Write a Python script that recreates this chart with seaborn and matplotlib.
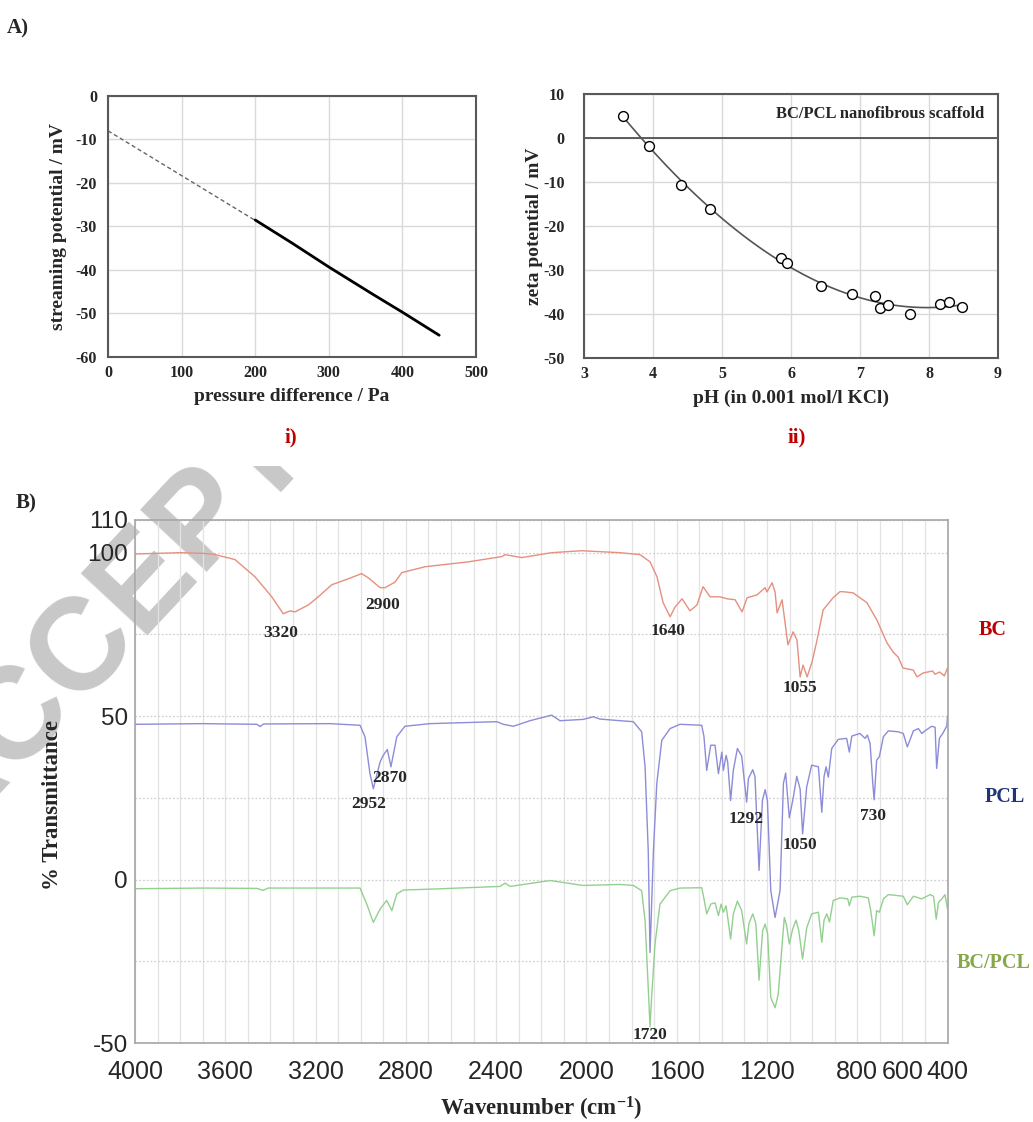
import numpy as np
import pandas as pd
import matplotlib
matplotlib.use("Agg")
import matplotlib.pyplot as plt
from matplotlib.ticker import FixedLocator, MultipleLocator
from matplotlib.transforms import Bbox, TransformedBbox
import seaborn as sns

# ---------------- data ----------------
# Panel A i) streaming potential vs pressure difference
fit_pressure = [0, 200]
fit_potential = [-8.0, -28.6]
meas_pressure = [200, 250, 300, 360, 400, 450]
meas_potential = [-28.5, -33.8, -39.3, -45.6, -49.7, -55.0]

# Panel A ii) zeta potential vs pH
ph = [3.57, 3.94, 4.41, 4.83, 5.85, 5.94, 6.43, 6.89, 7.22, 7.29, 7.40, 7.73, 8.16, 8.29, 8.48]
zeta = [5.1, -1.9, -10.6, -16.1, -27.3, -28.3, -33.6, -35.4, -35.8, -38.6, -38.0, -40.0, -37.7, -37.3, -38.5]

# Panel B) FTIR spectra
bc_wn = [4000, 3900, 3800, 3700, 3650, 3557, 3468, 3394, 3343, 3313, 3291, 3232, 3188, 3128,
         3055, 2996, 2966, 2914, 2892, 2848, 2818, 2715, 2523, 2375, 2360, 2287, 2154, 2021,
         1851, 1762, 1718, 1687, 1660, 1629, 1607, 1576, 1541, 1510, 1483, 1452, 1408, 1377,
         1341, 1328, 1310, 1288, 1244, 1208, 1200, 1177, 1164, 1155, 1133, 1107, 1084, 1067,
         1053, 1040, 1022, 1000, 978, 951, 907, 876, 854, 818, 757, 713, 668, 641, 619, 597,
         552, 535, 508, 466, 455, 435, 414, 400]
bc_t = [99.6, 99.8, 100.0, 99.8, 99.5, 97.9, 92.6, 86.5, 81.3, 82.2, 81.9, 84.0, 86.5, 90.2,
        92.0, 93.6, 92.3, 89.3, 89.3, 91.0, 93.9, 95.7, 97.2, 98.8, 99.4, 98.5, 100.0, 100.6,
        100.0, 99.4, 97.2, 92.6, 84.7, 80.4, 83.4, 85.9, 82.2, 84.0, 89.6, 86.5, 86.5, 85.9,
        85.6, 84.0, 81.9, 86.2, 87.1, 89.3, 88.0, 90.8, 88.0, 81.6, 85.6, 71.8, 75.8, 73.3,
        62.0, 65.6, 62.0, 66.6, 73.3, 82.5, 86.2, 88.1, 88.0, 87.7, 84.7, 79.4, 72.4, 69.6,
        68.1, 64.7, 64.1, 62.0, 63.2, 63.8, 62.8, 63.5, 62.3, 64.7]

pcl_wn = [4000, 3700, 3460, 3446, 3430, 3136, 3003, 2981, 2959, 2944, 2914, 2900, 2882, 2866,
          2840, 2804, 2693, 2397, 2368, 2324, 2250, 2154, 2117, 2014, 1969, 1940, 1851, 1792,
          1755, 1740, 1726, 1718, 1703, 1688, 1666, 1629, 1585, 1489, 1479, 1467, 1449, 1430,
          1415, 1400, 1393, 1381, 1374, 1361, 1349, 1331, 1312, 1290, 1282, 1263, 1253, 1235,
          1220, 1208, 1198, 1183, 1164, 1142, 1127, 1117, 1101, 1083, 1068, 1053, 1042, 1024,
          1002, 972, 957, 947, 938, 928, 913, 884, 847, 835, 824, 788, 765, 755, 743, 731, 725,
          714, 702, 684, 662, 618, 596, 578, 551, 529, 514, 500, 470, 455, 448, 436, 421, 403, 400]
pcl_t = [47.5, 47.7, 47.5, 46.8, 47.6, 47.7, 47.2, 43.7, 32.4, 27.8, 36.0, 38.0, 39.8, 34.5,
         43.7, 46.9, 47.7, 48.3, 47.5, 46.9, 48.6, 50.3, 48.6, 49.0, 49.8, 49.1, 48.6, 48.3,
         45.2, 34.5, 8.9, -22.3, 8.9, 29.4, 42.6, 46.2, 47.5, 47.2, 43.7, 33.4, 41.1, 41.1,
         32.4, 39.0, 33.4, 38.0, 36.0, 24.2, 33.4, 40.1, 37.8, 23.7, 30.9, 33.6, 31.5, 2.8,
         24.2, 27.5, 24.2, -3.4, -11.6, -3.4, 29.4, 32.6, 18.9, 25.2, 31.6, 27.7, 14.0, 28.3,
         35.0, 34.5, 20.6, 31.5, 34.5, 31.3, 40.1, 42.9, 43.2, 39.0, 43.9, 44.7, 43.2, 44.2,
         41.6, 29.4, 24.4, 36.5, 37.6, 43.7, 45.5, 45.2, 44.7, 40.6, 45.5, 46.2, 44.7, 45.5,
         46.9, 46.6, 34.0, 43.2, 44.7, 47.0, 50.0]

blend_wn = [4000, 3700, 3460, 3433, 3410, 3003, 2973, 2944, 2914, 2885, 2862, 2840, 2811, 2678,
            2383, 2360, 2338, 2161, 2015, 1851, 1792, 1755, 1740, 1726, 1718, 1711, 1696, 1674,
            1629, 1585, 1489, 1479, 1467, 1449, 1430, 1415, 1403, 1393, 1381, 1361, 1349, 1331,
            1312, 1290, 1280, 1263, 1249, 1235, 1219, 1208, 1197, 1183, 1164, 1150, 1135, 1123,
            1113, 1101, 1086, 1071, 1059, 1042, 1024, 1002, 972, 957, 947, 935, 923, 906, 876,
            842, 835, 824, 788, 751, 740, 725, 714, 702, 684, 662, 596, 578, 551, 514, 477, 462,
            450, 440, 425, 411, 400]
blend_t = [-2.8, -2.6, -2.7, -3.3, -2.6, -2.6, -7.5, -13.1, -9.0, -6.4, -9.5, -4.4, -3.2, -2.9,
           -2.1, -1.1, -2.1, -0.3, -1.8, -1.5, -1.8, -3.4, -12.6, -33.0, -45.0, -36.1, -19.7, -7.5,
           -3.4, -2.6, -2.5, -5.9, -10.5, -7.5, -7.1, -11.0, -7.5, -10.0, -8.0, -18.2, -10.5, -6.6,
           -9.5, -19.7, -13.5, -10.5, -13.5, -30.8, -15.6, -13.6, -16.6, -36.1, -39.2, -35.1, -21.8, -11.6,
           -14.0, -19.7, -15.1, -12.4, -15.6, -24.3, -14.8, -10.5, -10.0, -19.2, -12.4, -10.5, -13.0, -6.4, -5.6,
           -5.9, -8.0, -5.4, -5.1, -5.6, -9.5, -17.2, -9.5, -10.0, -5.9, -4.6, -5.1, -7.7, -5.1, -5.9, -4.6, -5.1,
           -12.1, -7.0, -5.9, -4.6, -9.0]

peak_labels = ["3320", "2900", "1640", "1055", "2952", "2870", "1292", "1050", "730", "1720"]
peak_x = [3355, 2905, 1640, 1055, 2965, 2870, 1292, 1055, 730, 1720]
peak_y = [75.5, 84.0, 76.0, 58.5, 23.0, 31.0, 18.5, 10.5, 19.5, -47.5]

series_names = ["BC", "PCL", "BC/PCL"]
wn_ticks = [4000, 3600, 3200, 2800, 2400, 2000, 1600, 1200, 800, 600, 400]

# ---------------- style ----------------
sns.set_style("white")
SERIF = ["Liberation Serif", "DejaVu Serif"]
SANS = ["Liberation Sans", "DejaVu Sans"]
plt.rcParams["font.family"] = SERIF
plt.rcParams["axes.unicode_minus"] = False
plt.rcParams["mathtext.fontset"] = "custom"
plt.rcParams["mathtext.rm"] = "Liberation Serif:bold"
plt.rcParams["mathtext.bf"] = "Liberation Serif:bold"
plt.rcParams["mathtext.it"] = "Liberation Serif:bold"
plt.rcParams["mathtext.default"] = "bf"

fig = plt.figure(figsize=(10.33, 11.22), dpi=100)
fig.patch.set_facecolor("white")

W, H = 1033.0, 1122.0
def rect(x0, y0, x1, y1):
    return [x0 / W, 1 - y1 / H, (x1 - x0) / W, (y1 - y0) / H]

RED = "#c00000"
FRAME = "#595959"
GRID = "#d9d9d9"

# ---------------- panel A i ----------------
ax1 = fig.add_axes(rect(108, 96, 476, 357))
sns.lineplot(x=fit_pressure, y=fit_potential, ax=ax1, color="#666666", lw=1.0,
             linestyle=(0, (3, 2)), estimator=None, sort=False)
sns.lineplot(x=meas_pressure, y=meas_potential, ax=ax1, color="black", lw=2.0,
             estimator=None, sort=False)
ax1.set_xlim(0, 500)
ax1.set_ylim(-60, 0)
ax1.xaxis.set_major_locator(MultipleLocator(100))
ax1.yaxis.set_major_locator(MultipleLocator(10))
ax1.grid(True, color=GRID, lw=1.0)
ax1.set_axisbelow(True)
for s in ax1.spines.values():
    s.set_color(FRAME); s.set_linewidth(1.5)
ax1.tick_params(length=0, labelsize=11.5, pad=6)
ax1.tick_params(axis="y", pad=8)
for lab in ax1.get_xticklabels() + ax1.get_yticklabels():
    lab.set_fontweight("bold")
ax1.set_xlabel("pressure difference / Pa", fontsize=14, fontweight="bold", labelpad=5)
ax1.set_ylabel("streaming potential / mV", fontsize=14, fontweight="bold", labelpad=6)

# ---------------- panel A ii ----------------
ax2 = fig.add_axes(rect(584, 94, 998, 358))
ax2.axhline(0, color="#505050", lw=1.3, zorder=1)
sns.regplot(x=ph, y=zeta, order=3, ci=None, scatter=False, truncate=True, ax=ax2,
            line_kws=dict(color="#555555", lw=1.2))
sns.scatterplot(x=ph, y=zeta, ax=ax2, s=50, color="white", edgecolor="black",
                linewidth=1.0, zorder=4)
ax2.set_xlim(3, 9)
ax2.set_ylim(-50, 10)
ax2.xaxis.set_major_locator(MultipleLocator(1))
ax2.yaxis.set_major_locator(MultipleLocator(10))
ax2.grid(True, color=GRID, lw=1.0)
ax2.set_axisbelow(True)
for s in ax2.spines.values():
    s.set_color(FRAME); s.set_linewidth(1.5)
ax2.tick_params(length=0, labelsize=11.5, pad=6)
ax2.tick_params(axis="y", pad=14)
for lab in ax2.get_xticklabels() + ax2.get_yticklabels():
    lab.set_fontweight("bold")
ax2.set_xlabel("pH (in 0.001 mol/l KCl)", fontsize=14, fontweight="bold", labelpad=5)
ax2.set_ylabel("zeta potential / mV", fontsize=14, fontweight="bold", labelpad=0)
ax2.text(0.966, 0.925, "BC/PCL nanofibrous scaffold", transform=ax2.transAxes,
         ha="right", va="center", fontsize=12, fontweight="bold")

# ---------------- panel B ----------------
ax3 = fig.add_axes(rect(135, 520, 947.5, 1043))
ax3.set_facecolor("none")
colors = ["#e5907f", "#8c8cd8", "#93d08f"]
for wn, t, c in zip([bc_wn, pcl_wn, blend_wn], [bc_t, pcl_t, blend_t], colors):
    sns.lineplot(x=wn, y=t, ax=ax3, color=c, lw=1.0, estimator=None, sort=False)
ax3.set_xlim(4000, 400)
ax3.set_ylim(-50, 110)
ax3.xaxis.set_major_locator(FixedLocator(wn_ticks))
ax3.xaxis.set_minor_locator(MultipleLocator(100))
ax3.yaxis.set_major_locator(FixedLocator([-50, 0, 50, 100, 110]))
ax3.yaxis.set_minor_locator(FixedLocator([-25, 25, 75]))
ax3.grid(True, which="both", axis="x", color="#e3e3e3", lw=0.9)
ax3.grid(True, which="both", axis="y", color="#d0d0d0", lw=0.9, linestyle=(0, (1.5, 1.5)))
ax3.set_axisbelow(True)
for s in ax3.spines.values():
    s.set_color("#a6a6a6"); s.set_linewidth(1.2)
ax3.tick_params(axis="x", which="both", direction="in", length=10, color="#a6a6a6",
                labelsize=18, pad=12)
ax3.tick_params(axis="y", which="major", direction="in", length=14, color="#a6a6a6",
                labelsize=17.5, pad=5)
ax3.tick_params(axis="y", which="minor", direction="in", length=7, color="#a6a6a6")
ax3.set_xticklabels([str(v) for v in wn_ticks], fontfamily=SANS)
ax3.set_yticklabels(["-50", "0", "50", "100", "110"], fontfamily=SANS)
ax3.set_xlabel(r"Wavenumber (cm$^{-1}$)", fontsize=16.5, fontweight="bold", labelpad=8)
ax3.set_ylabel("% Transmittance", fontsize=16.5, fontweight="bold")
ax3.yaxis.set_label_coords(-0.088, 0.455)

for lab, px, py in zip(peak_labels, peak_x, peak_y):
    ax3.text(px, py, lab, ha="center", va="center", fontsize=12.5, fontweight="bold")

name_pos = [(993, 630), (1005, 797), (994, 963)]
name_cols = [RED, "#1f3577", "#86a84a"]
for nm, (px, py), c in zip(series_names, name_pos, name_cols):
    fig.text(px / W, 1 - py / H, nm, ha="center", va="center", fontsize=14.5,
             fontweight="bold", color=c)

# ---------------- panel letters ----------------
fig.text(18 / W, 1 - 28 / H, "A)", ha="center", va="center", fontsize=15, fontweight="bold")
fig.text(26 / W, 1 - 503 / H, "B)", ha="center", va="center", fontsize=15, fontweight="bold")
fig.text(291 / W, 1 - 437 / H, "i)", ha="center", va="center", fontsize=15, fontweight="bold", color=RED)
fig.text(797 / W, 1 - 437 / H, "ii)", ha="center", va="center", fontsize=15, fontweight="bold", color=RED)

# ---------------- watermark ----------------
wm = fig.text(-51 / W, 1 - 848 / H, "ACCEPTED MANUSCRIPT", rotation=47, rotation_mode="anchor",
              ha="left", va="baseline", fontsize=94, fontfamily=SANS, fontweight="bold",
              color="#c8c8c8", zorder=-1)
wm.set_clip_on(True)
wm.set_clip_box(TransformedBbox(Bbox([[0, 0], [1, 1 - 466 / H]]), fig.transFigure))

fig.savefig("out.png", dpi=100, facecolor="white")
